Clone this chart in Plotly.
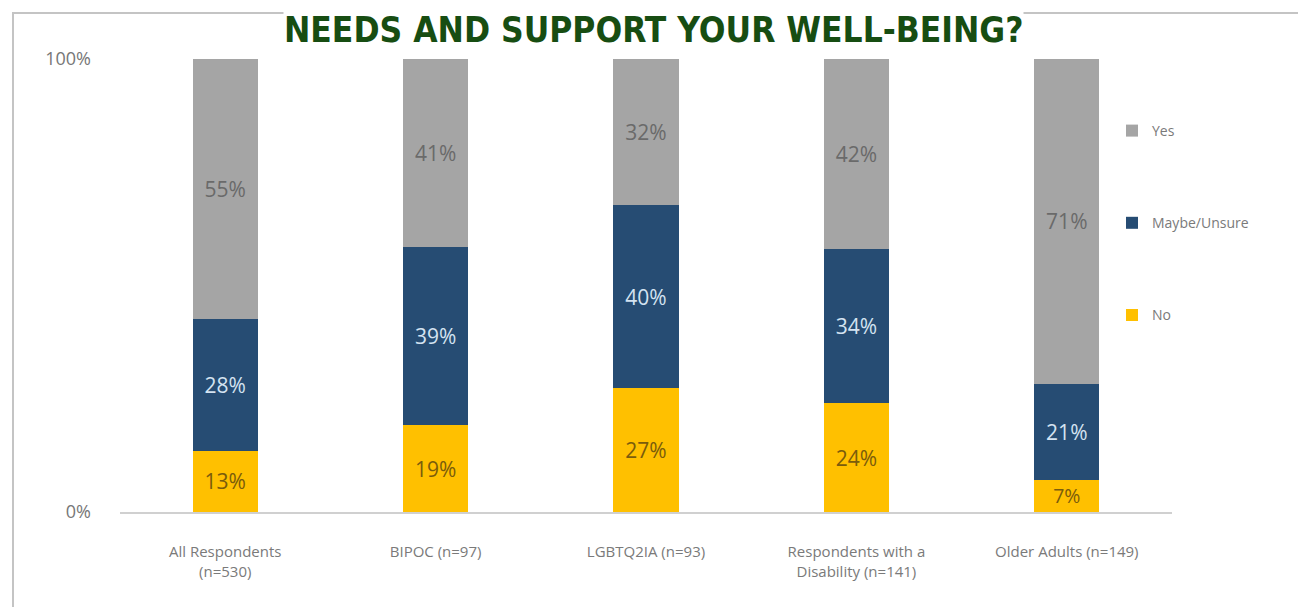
import plotly.graph_objects as go

categories = ["All Respondents<br>(n=530)", "BIPOC (n=97)", "LGBTQ2IA (n=93)",
              "Respondents with a<br>Disability (n=141)", "Older Adults (n=149)"]
no_vals = [13, 19, 27, 24, 7]
maybe_vals = [28, 39, 40, 34, 21]
yes_vals = [55, 41, 32, 42, 71]
title_text = "NEEDS AND SUPPORT YOUR WELL-BEING?"

OFF = 8  # page body margin
W, H = 1290, 599
L, T = 120 - OFF, 59 - OFF
R = W - (1172 - OFF)
B = H - (512 - OFF)
pw, ph = W - L - R, H - T - B

def px_x(px):
    return (px - OFF - L) / pw

def px_y(py):
    return (H - B - (py - OFF)) / ph

series = [
    ("No", no_vals, "#ffc000", "#7a5c0c", "g1", 3),
    ("Maybe/Unsure", maybe_vals, "#264c73", "#d4e3f1", "g2", 2),
    ("Yes", yes_vals, "#a5a5a5", "#6a6a6a", "g3", 1),
]

fig = go.Figure()
for name, vals, color, tcolor, grp, rank in series:
    fig.add_trace(go.Bar(
        x=categories, y=vals, name=name, marker=dict(color=color, line=dict(width=0)),
        text=[f"{v}%" for v in vals], textposition="inside", insidetextanchor="middle",
        textfont=dict(family="Open Sans", size=21, color=tcolor),
        legendgroup=grp, legendrank=rank, textangle=0,
    ))

fig.update_layout(
    barmode="stack", barnorm="percent", bargap=0.69,
    width=W, height=H,
    margin=dict(l=L, r=R, t=T, b=B),
    paper_bgcolor="white", plot_bgcolor="white",
    font=dict(family="Open Sans", color="#6e6e6e"),
    legend=dict(
        x=px_x(1112), y=px_y(115), xanchor="left", yanchor="top",
        traceorder="grouped", tracegroupgap=71,
        font=dict(family="Open Sans", size=14, color="#7a7a7a"),
        bgcolor="rgba(0,0,0,0)", itemwidth=30,
    ),
    xaxis=dict(
        showgrid=False, showline=True, linecolor="#d0d0d0", linewidth=2,
        ticks="", tickfont=dict(family="Open Sans", size=15, color="#7a7a7a"),
        ticklabelstandoff=25,
    ),
    yaxis=dict(
        range=[0, 100], tickvals=[0, 100], ticktext=["0%", "100%"],
        showgrid=True, gridcolor="#dcdcdc", gridwidth=2, zeroline=False,
        showline=False, ticks="",
        tickfont=dict(family="Open Sans", size=18, color="#777777"),
        ticklabelstandoff=28,
    ),
    shapes=[dict(
        type="rect", xref="paper", yref="paper",
        x0=px_x(13), x1=px_x(1340), y0=px_y(660), y1=px_y(13),
        line=dict(color="#c4c4c4", width=2), fillcolor="rgba(0,0,0,0)", layer="below",
    )],
    annotations=[dict(
        text=f"<b>{title_text}</b>", xref="paper", yref="paper",
        x=px_x(653), y=px_y(9), xanchor="center", yanchor="top",
        showarrow=False, bgcolor="white", borderpad=0,
        font=dict(family="Liberation Sans Narrow, DejaVu Sans Condensed, Arial Narrow, sans-serif",
                  size=35, color="#174d12"),
    )],
)

fig.write_html("out.html")
